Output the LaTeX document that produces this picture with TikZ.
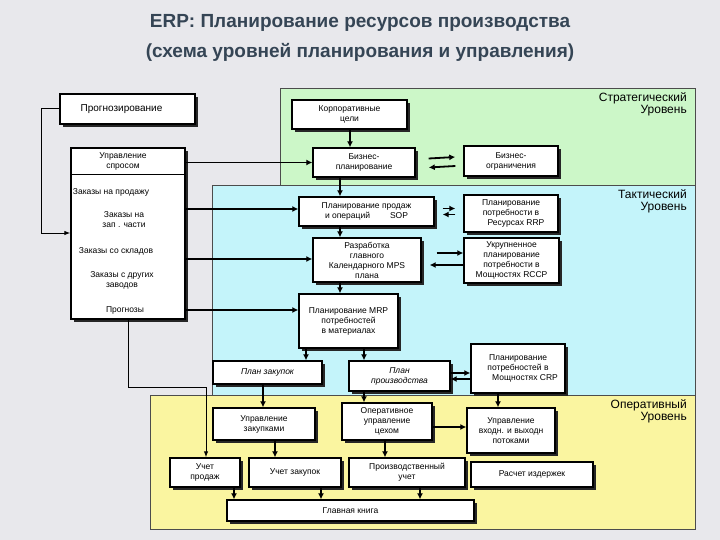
\documentclass[tikz,border=0pt]{standalone}
\usepackage{fontspec}
\setmainfont{Liberation Sans}
\usetikzlibrary{arrows.meta,shadows}
\definecolor{bg}{HTML}{E8E8EC}
\definecolor{gz}{HTML}{CCF7C8}
\definecolor{cz}{HTML}{C4F4FA}
\definecolor{yz}{HTML}{FAF5A0}
\definecolor{tt}{HTML}{354555}
\tikzset{
 box/.style={draw=black,line width=1.4pt,fill=white,align=center,inner sep=1pt,
   font=\fontsize{8.5}{10}\selectfont,
   drop shadow={shadow xshift=3pt,shadow yshift=-3pt,fill=black!85,opacity=1}},
 lbl/.style={font=\fontsize{8.5}{10}\selectfont,align=center,inner sep=0pt},
 lev/.style={font=\fontsize{12}{12}\selectfont,align=right,anchor=north east,inner sep=0pt},
 ar/.style={line width=1.8pt,-{Latex[length=6pt,width=6pt]}},
 ln/.style={line width=1pt}
}
\newcommand{\bx}[7][]{\node[box,minimum width={(#5-#3)*1pt},minimum height={(#6-#4)*1pt},#1] (#2) at ({(#3+#5)/2},{(#4+#6)/2}) {#7};}
\begin{document}
\begin{tikzpicture}[x=1pt,y=-1pt]
\useasboundingbox (0,0) rectangle (720,540);
\fill[bg] (0,0) rectangle (720,540);
\fill[gz,draw=black!70] (280,88) rectangle (695,185);
\fill[cz,draw=black!70] (212,185) rectangle (695,395);
\fill[yz,draw=black!70] (150,395) rectangle (695,529);
\node[font=\bfseries\fontsize{19}{30}\selectfont,text=tt,align=center] (title) at (360,38) {ERP: Планирование ресурсов производства\\(схема уровней планирования и управления)};
\node[lev] (l1) at (687,92) {Стратегический\\Уровень};
\node[lev] (l2) at (687,189) {Тактический\\Уровень};
\node[lev] (l3) at (687,399) {Оперативный\\Уровень};
% left
\bx{prog}{60}{94}{195}{124}{\fontsize{10}{11}\selectfont\hspace*{-12pt}Прогнозирование}
\bx{L}{71}{148}{185}{319}{}
\draw[line width=0.6pt] (L.west |- 0,174) -- (L.east |- 0,174);
\node[lbl] (us) at (123,161) {Управление\\спросом};
\node[lbl] (z1) at (111,192) {Заказы на продажу};
\node[lbl] (z2) at (124,220) {Заказы на\\зап . части};
\node[lbl] (z3) at (116,251) {Заказы со складов};
\node[lbl] (z4) at (122,280) {Заказы с других\\заводов};
\node[lbl] (prz) at (125,310) {Прогнозы};
% strategic
\bx{cg}{292}{100}{407}{129}{Корпоративные\\цели}
\bx{bp}{313}{148}{415}{177}{Бизнес-\\планирование}
\bx{bo}{464}{146}{558}{176}{Бизнес-\\ограничения}
% tactical
\bx{sop}{299}{197}{434}{226}{Планирование продаж\\и операций\hspace{20pt}SOP}
\bx{rrp}{464}{195}{558}{232}{Планирование\\потребности в\\\hspace*{10pt}Ресурсах RRP}
\bx{mps}{313}{238}{421}{282}{Разработка\\главного\\Календарного MPS\\плана}
\bx{rccp}{464}{238}{559}{283}{Укрупненное\\планирование\\потребности в\\Мощностях RCCP}
\bx{mrp}{299}{294}{398}{348}{Планирование MRP\\потребностей\\в материалах}
\bx{pz}{213}{361}{322}{384}{\itshape План закупок}
\bx{pp}{349}{361}{450}{391}{\itshape План\\\itshape производства}
\bx{crp}{471}{344}{565}{393}{Планирование\\потребностей в\\\hspace*{14pt}Мощностях CRP}
% operational
\bx{uz}{213}{408}{315}{440}{Управление\\закупками}
\bx{ou}{342}{403}{432}{440}{Оперативное\\управление\\цехом}
\bx{uv}{467}{408}{555}{453}{Управление\\входн. и выходн\\потоками}
\bx{up}{170}{458}{240}{487}{Учет\\продаж}
\bx{uzk}{249}{458}{341}{487}{Учет закупок}
\bx{pu}{349}{458}{465}{487}{Производственный\\учет}
\bx{ri}{471}{462}{593}{487}{Расчет издержек}
\bx{gk}{227}{500}{474}{521}{Главная книга}
% connectors
\coordinate (c1) at (41,109);
\coordinate (c2) at (41,233);
\draw[ln,-{Latex[length=6pt]}] (prog.west) -- (c1) -- (c2) -- (L.west |- c2);
\draw[ar] (cg.south -| 350,0) -- (bp.north -| 350,0);
\draw[ar] (bp.south -| 340,0) -- (sop.north -| 340,0);
\draw[ar] (sop.south -| 340,0) -- (mps.north -| 340,0);
\draw[ar] (mps.south -| 340,0) -- (mrp.north -| 340,0);
\draw[ar] (L.east |- bp) -- (bp.west);
\draw[ar] (L.east |- 0,209) -- (sop.west |- 0,209);
\draw[ar] (L.east |- 0,259) -- (mps.west |- 0,259);
\draw[ar] (L.east |- prz) -- (mrp.west |- prz);
\draw[ar] ([yshift=4pt]bp.east) ++(13,0) -- ([xshift=-8pt,yshift=4pt]bo.west);
\draw[ar] ([yshift=-5pt]bo.west) ++(-8,0) -- ([xshift=13pt,yshift=-5pt]bp.east);
\draw[ar] ([xshift=8pt,yshift=3pt]sop.east) -- ([xshift=-8pt,yshift=3pt]sop.east -| rrp.west);
\draw[ar] ([xshift=-8pt,yshift=-3pt]sop.east -| rrp.west) -- ([xshift=8pt,yshift=-3pt]sop.east);
\draw[ar] ([xshift=15pt,yshift=7pt]mps.east) -- ([yshift=7pt]mps.east -| rccp.west);
\draw[ar] ([yshift=-5pt]mps.east -| rccp.west) -- ([xshift=8pt,yshift=-5pt]mps.east);
\draw[ar] (mrp.south -| 306,0) -- (pz.north -| 306,0);
\draw[ar] (mrp.south -| 364,0) -- (pp.north -| 364,0);
\draw[ar] (pp.east |- 0,373) -- (crp.west |- 0,373);
\draw[ar] (crp.west |- 0,379) -- (pp.east |- 0,379);
\draw[ar] (pz.south -| 263,0) -- (uz.north -| 263,0);
\draw[ar] (pp.south -| 364,0) -- (ou.north -| 364,0);
\draw[ar] (crp.south -| 498,0) -- (uv.north -| 498,0);
\draw[ar] (ou.east |- 0,427) -- (uv.west |- 0,427);
\draw[ar] (uz.south -| 275,0) -- (uzk.north -| 275,0);
\draw[ar] (ou.south -| 385,0) -- (pu.north -| 385,0);
\draw[ar] (up.south -| 234,0) -- (gk.north -| 234,0);
\draw[ar] (uzk.south -| 321,0) -- (gk.north -| 321,0);
\draw[ar] (pu.south -| 420,0) -- (gk.north -| 420,0);
\coordinate (d1) at (128,387);
\coordinate (d2) at (206,387);
\draw[ln,-{Latex[length=6pt]}] (L.south -| d1) -- (d1) -- (d2) -- (up.north -| d2);
\end{tikzpicture}
\end{document}
